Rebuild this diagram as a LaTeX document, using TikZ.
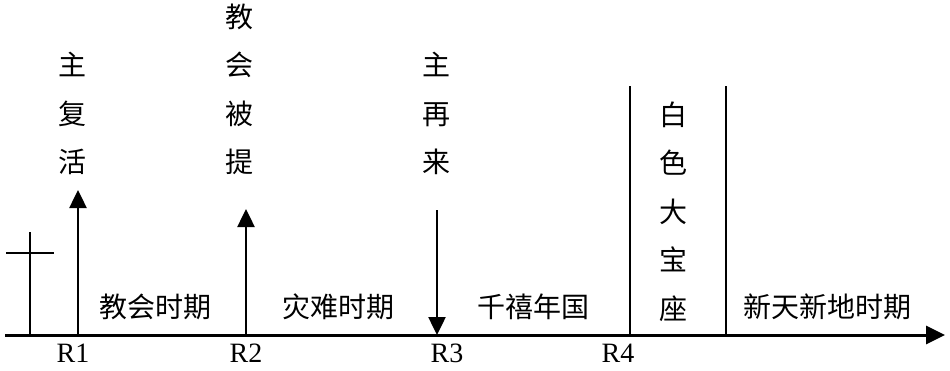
\documentclass[tikz,border=0pt]{standalone}
\usepackage{fontspec}
\setmainfont{Liberation Serif}
\newfontfamily\cjk{Noto Sans CJK SC}
\usetikzlibrary{arrows.meta}

\begin{document}
\begin{tikzpicture}[x=1pt, y=-1pt]% timeline
            \tikzstyle{axis} = [line width=3pt]
            \tikzstyle{event} = [line width=2.5pt, -{Triangle[length=18pt, width=17pt]}]
            \tikzstyle{bar} = [line width=2pt]
            \tikzstyle{period} = [font=\cjk\fontsize{28}{34}\selectfont, inner sep=0pt]
            \tikzstyle{column} = [font=\cjk\fontsize{28}{48.5}\selectfont, inner sep=0pt, align=center]
            \tikzstyle{mark label} = [font=\fontsize{28}{34}\selectfont, inner sep=0pt, anchor=base]
            \useasboundingbox (0, 0) rectangle (950, 370);
            % axis
            \coordinate (start) at (5, 335);
            \coordinate (end) at (945, 335);
            \draw[axis, -{Triangle[length=19pt, width=18pt]}] (start) -- (end);
            % cross
            \coordinate (cross top) at (30, 232);
            \coordinate (cross foot) at (30, 335);
            \coordinate (beam left) at (6, 253);
            \coordinate (beam right) at (54, 253);
            \draw[bar] (cross foot) -- (cross top);
            \draw[bar] (beam left) -- (beam right);
            % events
            \coordinate (r1) at (78, 335);
            \coordinate (r2) at (246, 335);
            \coordinate (r3) at (437, 335);
            \coordinate (r4) at (630, 335);
            \coordinate (r5) at (726, 335);
            \coordinate (r1 tip) at (78, 190);
            \coordinate (r2 tip) at (246, 209);
            \coordinate (r3 top) at (437, 210);
            \coordinate (r4 top) at (630, 86);
            \coordinate (r5 top) at (726, 86);
            \draw[event] (r1) -- (r1 tip);
            \draw[event] (r2) -- (r2 tip);
            \draw[event] (r3 top) -- (r3);
            \draw[bar] (r4) -- (r4 top);
            \draw[bar] (r5) -- (r5 top);
            % labels
            \node[mark label] (label r1) at (73, 362) {R1};
            \node[mark label] (label r2) at (246, 362) {R2};
            \node[mark label] (label r3) at (447, 362) {R3};
            \node[mark label] (label r4) at (618, 362) {R4};
            \node[column] (resurrection) at (72, 113.5) {主\\复\\活};
            \node[column] (rapture) at (239, 89.5) {教\\会\\被\\提};
            \node[column] (return) at (436, 113.5) {主\\再\\来};
            \node[column] (throne) at (673, 211.5) {白\\色\\大\\宝\\座};
            \node[period] (church) at (155, 307) {教会时期};
            \node[period] (tribulation) at (338, 307) {灾难时期};
            \node[period] (millennium) at (533, 307) {千禧年国};
            \node[period] (new earth) at (827, 307) {新天新地时期};
        \end{tikzpicture}
\end{document}
